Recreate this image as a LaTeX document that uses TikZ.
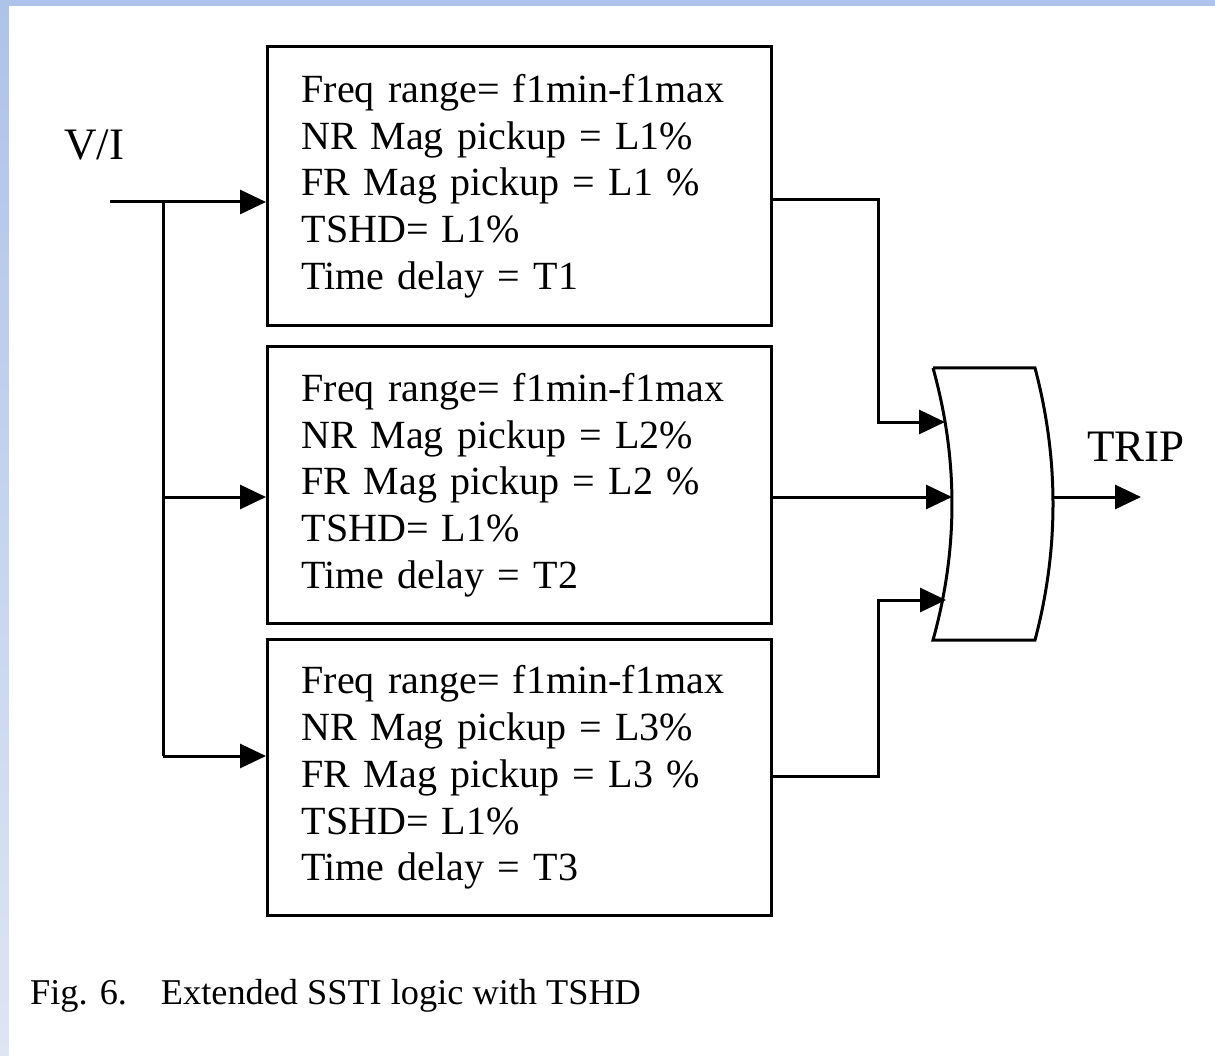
\documentclass[tikz,border=0pt]{standalone}
\usepackage{fontspec}
\setmainfont{Liberation Serif}
\usetikzlibrary{arrows.meta}
\definecolor{bandtop}{HTML}{AEC3E9}
\definecolor{bandbot}{HTML}{DEE5F3}
\newcommand{\myboxfont}{\fontsize{40}{46.8}\selectfont\spaceskip=8pt plus 2pt\relax}
\tikzset{
  wire/.style={line width=3pt, line join=miter},
  arr/.style={wire, -{Triangle[length=26pt,width=24pt]}},
  box/.style={draw, line width=3.2pt, rectangle, anchor=north west,
    inner xsep=34pt, inner ysep=0pt, text width=436pt, align=left,
    font=\myboxfont},
  lbl/.style={font=\fontsize{45}{50}\selectfont, inner sep=0pt},
}
\begin{document}
\begin{tikzpicture}[x=1pt,y=-1pt]
\useasboundingbox (0,0) rectangle (1215,1056);
% background bands
\shade[top color=bandtop, bottom color=bandbot] (0,0) rectangle (9,1056);
\fill[bandtop] (0,0) rectangle (1215,6);
\fill[white] (9,6) rectangle (1215,1056);
% boxes
\node[box, minimum width=504pt, minimum height=279pt] (b1) at (266,45)
  {Freq range= f1min-f1max\\NR Mag pickup = L1\%\\FR Mag pickup = L1 \%\\TSHD= L1\%\\Time delay = T1};
\node[box, minimum width=504pt, minimum height=277pt] (b2) at (266,345)
  {Freq range= f1min-f1max\\NR Mag pickup = L2\%\\FR Mag pickup = L2 \%\\TSHD= L1\%\\Time delay = T2};
\node[box, minimum width=504pt, minimum height=276pt] (b3) at (266,638)
  {Freq range= f1min-f1max\\NR Mag pickup = L3\%\\FR Mag pickup = L3 \%\\TSHD= L1\%\\Time delay = T3};
% OR gate
\draw[line width=3pt, line join=miter] (933,368) -- (1035,368)
  .. controls (1059,458.7) and (1059,549.3) .. (1035,640) -- (933,640)
  .. controls (958.3,549.3) and (958.3,458.7) .. (933,368);
\coordinate (g1) at (945,422);
\coordinate (g2) at (952,497);
\coordinate (g3) at (946,600);
\coordinate (gout) at (1053,497);
\coordinate (tripend) at (1141,497);
% input
\node[lbl, anchor=base west] (vi) at (64,160) {V/I};
\coordinate (in) at (110,202);
\coordinate (split) at (163,202);
\draw[arr] (in) -- (b1.west |- in);
\draw[wire] (split) -- (163,756);
\draw[arr] (163,497) -- (b2.west |- 0,497);
\draw[arr] (163,756) -- (b3.west |- 0,756);
% outputs
\draw[arr] (b1.east |- 0,200) -- (878,200) -- (878,422) -- (g1);
\draw[arr] (b2.east |- g2) -- (g2);
\draw[arr] (b3.east |- 0,776) -- (878,776) -- (878,600) -- (g3);
\draw[arr] (gout) -- (tripend);
\node[lbl, anchor=base west] (trip) at (1087,461) {TRIP};
% caption
\node[anchor=base west, inner sep=0pt, font=\fontsize{36.3}{40}\selectfont] (cap) at (30,1004)
  {Fig. 6.\hspace{34pt}Extended SSTI logic with TSHD};
\end{tikzpicture}
\end{document}
